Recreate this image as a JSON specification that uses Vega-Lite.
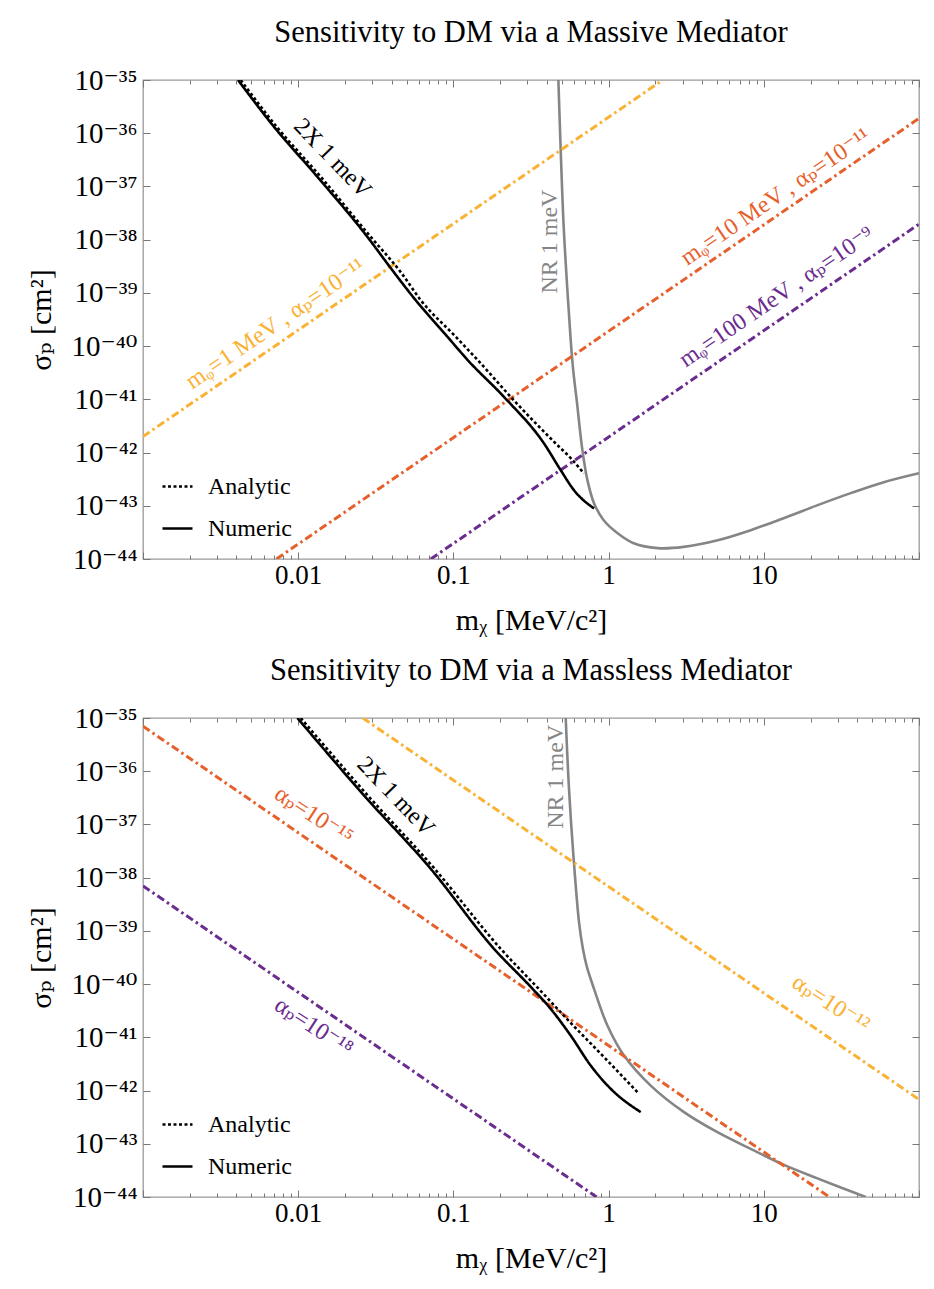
{
  "$schema": "https://vega.github.io/schema/vega-lite/v6.json",
  "background": "white",
  "padding": {"left": 26, "top": 16, "right": 10, "bottom": 5},
  "config": {
    "font": "Liberation Serif, DejaVu Serif",
    "view": {"stroke": "#9a9a9a", "strokeWidth": 1.3},
    "axis": {"grid": false, "domain": false, "labelFont": "Liberation Serif, DejaVu Serif", "titleFont": "Liberation Serif, DejaVu Serif", "labelColor": "black", "titleColor": "black", "tickColor": "#777777", "tickWidth": 1, "titleFontWeight": "normal"},
    "title": {"font": "Liberation Serif, DejaVu Serif", "fontSize": 30.5, "fontWeight": "normal", "color": "black"},
    "legend": {"orient": "bottom-left", "offset": 18, "padding": 0, "labelFontSize": 24, "labelFont": "Liberation Serif, DejaVu Serif", "labelColor": "black", "symbolType": "stroke", "symbolSize": 900, "symbolStrokeWidth": 2.4, "rowPadding": 13, "labelOffset": 14, "symbolStrokeColor": "black"}
  },
  "resolve": {"scale": {"strokeDash": "independent"}, "legend": {"strokeDash": "independent"}},
  "spacing": 18,
  "datasets": {
    "top": [
      {"s": "NR", "x": 0.4747, "y": 1e-35}, {"s": "NR", "x": 0.4913, "y": 4.83e-37}, {"s": "NR", "x": 0.5137, "y": 1.73e-38}, {"s": "NR", "x": 0.5451, "y": 9.1e-40}, {"s": "NR", "x": 0.5699, "y": 1.30e-40}, {"s": "NR", "x": 0.5914, "y": 3.54e-41}, {"s": "NR", "x": 0.6230, "y": 9.66e-42}, {"s": "NR", "x": 0.6779, "y": 1.11e-42}, {"s": "NR", "x": 0.7303, "y": 3.03e-43}, {"s": "NR", "x": 0.8052, "y": 1.12e-43}, {"s": "NR", "x": 0.9298, "y": 5.36e-44}, {"s": "NR", "x": 1.144, "y": 3.05e-44}, {"s": "NR", "x": 1.451, "y": 1.98e-44}, {"s": "NR", "x": 2.072, "y": 1.60e-44}, {"s": "NR", "x": 3.047, "y": 1.69e-44}, {"s": "NR", "x": 5.047, "y": 2.25e-44}, {"s": "NR", "x": 8.233, "y": 3.48e-44}, {"s": "NR", "x": 13.43, "y": 5.85e-44}, {"s": "NR", "x": 22.25, "y": 1.03e-43}, {"s": "NR", "x": 36.3, "y": 1.73e-43}, {"s": "NR", "x": 59.25, "y": 2.78e-43}, {"s": "NR", "x": 100, "y": 4.10e-43},
      {"s": "orange", "x": 0.001, "y": 2e-42}, {"s": "orange", "x": 2.236, "y": 1e-35},
      {"s": "red", "x": 0.00724, "y": 1e-44}, {"s": "red", "x": 100, "y": 1.9e-36},
      {"s": "purple", "x": 0.0715, "y": 1e-44}, {"s": "purple", "x": 100, "y": 1.956e-38},
      {"s": "Numeric", "x": 0.004094, "y": 1e-35}, {"s": "Numeric", "x": 0.006984, "y": 1.32e-36}, {"s": "Numeric", "x": 0.01329, "y": 1.52e-37}, {"s": "Numeric", "x": 0.02791, "y": 1.13e-38}, {"s": "Numeric", "x": 0.03888, "y": 3.10e-39}, {"s": "Numeric", "x": 0.05573, "y": 7.98e-40}, {"s": "Numeric", "x": 0.09148, "y": 1.50e-40}, {"s": "Numeric", "x": 0.1255, "y": 5.22e-41}, {"s": "Numeric", "x": 0.2118, "y": 1.11e-41}, {"s": "Numeric", "x": 0.3836, "y": 1.48e-42}, {"s": "Numeric", "x": 0.4913, "y": 4.67e-43}, {"s": "Numeric", "x": 0.5985, "y": 1.96e-43}, {"s": "Numeric", "x": 0.8054, "y": 8.9e-44},
      {"s": "Analytic", "x": 0.004261, "y": 1e-35}, {"s": "Analytic", "x": 0.00727, "y": 1.32e-36}, {"s": "Analytic", "x": 0.01396, "y": 1.52e-37}, {"s": "Analytic", "x": 0.02932, "y": 1.13e-38}, {"s": "Analytic", "x": 0.04643, "y": 2.33e-39}, {"s": "Analytic", "x": 0.06155, "y": 7.32e-40}, {"s": "Analytic", "x": 0.1035, "y": 1.50e-40}, {"s": "Analytic", "x": 0.1455, "y": 5.22e-41}, {"s": "Analytic", "x": 0.2446, "y": 9.66e-42}, {"s": "Analytic", "x": 0.4563, "y": 1.48e-42}, {"s": "Analytic", "x": 0.5699, "y": 7.85e-43}, {"s": "Analytic", "x": 0.6942, "y": 4.05e-43}
    ],
    "bottom": [
      {"s": "NR", "x": 0.5292, "y": 1e-35}, {"s": "NR", "x": 0.5557, "y": 4.69e-37}, {"s": "NR", "x": 0.5932, "y": 2.61e-38}, {"s": "NR", "x": 0.6447, "y": 1.46e-39}, {"s": "NR", "x": 0.683, "y": 4.61e-40}, {"s": "NR", "x": 0.7247, "y": 2.1e-40}, {"s": "NR", "x": 0.8054, "y": 8.16e-41}, {"s": "NR", "x": 0.9824, "y": 1.67e-41}, {"s": "NR", "x": 1.257, "y": 4.55e-42}, {"s": "NR", "x": 1.868, "y": 1.24e-42}, {"s": "NR", "x": 3.061, "y": 3.93e-43}, {"s": "NR", "x": 5.024, "y": 1.65e-43}, {"s": "NR", "x": 8.233, "y": 8.02e-44}, {"s": "NR", "x": 13.49, "y": 4.01e-44}, {"s": "NR", "x": 22.15, "y": 2.24e-44}, {"s": "NR", "x": 45.37, "y": 1e-44},
      {"s": "orange", "x": 0.02608, "y": 1e-35}, {"s": "orange", "x": 100, "y": 6.8e-43},
      {"s": "red", "x": 0.001, "y": 7e-36}, {"s": "red", "x": 26.46, "y": 1e-44},
      {"s": "purple", "x": 0.001, "y": 7e-39}, {"s": "purple", "x": 0.8367, "y": 1e-44},
      {"s": "Numeric", "x": 0.009881, "y": 1e-35}, {"s": "Numeric", "x": 0.02655, "y": 3.51e-37}, {"s": "Numeric", "x": 0.07142, "y": 1.47e-38}, {"s": "Numeric", "x": 0.1827, "y": 4.61e-40}, {"s": "Numeric", "x": 0.3148, "y": 8.89e-41}, {"s": "Numeric", "x": 0.4236, "y": 3.43e-41}, {"s": "Numeric", "x": 0.5699, "y": 1.08e-41}, {"s": "Numeric", "x": 0.7669, "y": 2.95e-42}, {"s": "Numeric", "x": 1.032, "y": 1.08e-42}, {"s": "Numeric", "x": 1.61, "y": 3.93e-43},
      {"s": "Analytic", "x": 0.01038, "y": 1e-35}, {"s": "Analytic", "x": 0.02783, "y": 3.61e-37}, {"s": "Analytic", "x": 0.07464, "y": 1.54e-38}, {"s": "Analytic", "x": 0.2017, "y": 4.61e-40}, {"s": "Analytic", "x": 0.3544, "y": 8.16e-41}, {"s": "Analytic", "x": 0.5699, "y": 1.87e-41}, {"s": "Analytic", "x": 0.958, "y": 3.94e-42}, {"s": "Analytic", "x": 1.57, "y": 8.67e-43}
    ]
  },
  "vconcat": [
    {
      "title": {"text": "Sensitivity to DM via a Massive Mediator", "offset": 18},
      "width": 776,
      "height": 479,
      "data": {"name": "top"},
      "resolve": {"axis": {"x": "independent", "y": "independent"}},
      "layer": [
        {
          "transform": [{"filter": "datum.s == 'NR'"}],
          "mark": {"type": "line", "color": "#858585", "strokeWidth": 2.6, "clip": true, "interpolate": "catmull-rom"},
          "encoding": {
            "x": {"field": "x", "type": "quantitative", "scale": {"type": "log", "domain": [0.001, 100], "nice": false},
              "axis": {"orient": "bottom", "values": [0.001,0.002,0.003,0.004,0.005,0.006,0.007,0.008,0.009,0.01,0.02,0.03,0.04,0.05,0.06,0.07,0.08,0.09,0.1,0.2,0.3,0.4,0.5,0.6,0.7,0.8,0.9,1,2,3,4,5,6,7,8,9,10,20,30,40,50,60,70,80,90,100],
                "labelExpr": "datum.value == 0.01 ? '0.01' : datum.value == 0.1 ? '0.1' : datum.value == 1 ? '1' : datum.value == 10 ? '10' : ''",
                "labelOverlap": false, "labelFlush": false, "labelFontSize": 27, "labelPadding": 10,
                "tickSize": {"condition": {"test": "datum.value == 0.001 || datum.value == 0.01 || datum.value == 0.1 || datum.value == 1 || datum.value == 10 || datum.value == 100", "value": -7}, "value": -4},
                "title": "mᵪ [MeV/c²]", "titleFontSize": 30, "titlePadding": 14}},
            "y": {"field": "y", "type": "quantitative", "scale": {"type": "log", "domain": [1e-44, 1e-35], "nice": false},
              "axis": {"orient": "left", "values": [1e-44,1e-43,1e-42,1e-41,1e-40,1e-39,1e-38,1e-37,1e-36,1e-35],
                "labelExpr": "['10⁻³⁵','10⁻³⁶','10⁻³⁷','10⁻³⁸','10⁻³⁹','10⁻⁴⁰','10⁻⁴¹','10⁻⁴²','10⁻⁴³','10⁻⁴⁴'][-35 - round(log(datum.value)/LN10)]",
                "labelOverlap": false, "labelFlush": false, "labelFontSize": 29, "labelPadding": 13, "tickSize": -7,
                "title": "σₚ [cm²]", "titleFontSize": 30, "titlePadding": 14}}
          }
        },
        {
          "transform": [{"filter": "datum.s == 'NR'"}],
          "mark": {"type": "line", "opacity": 0},
          "encoding": {
            "x": {"field": "x", "type": "quantitative", "scale": {"type": "log", "domain": [0.001, 100], "nice": false},
              "axis": {"orient": "top", "values": [0.001,0.002,0.003,0.004,0.005,0.006,0.007,0.008,0.009,0.01,0.02,0.03,0.04,0.05,0.06,0.07,0.08,0.09,0.1,0.2,0.3,0.4,0.5,0.6,0.7,0.8,0.9,1,2,3,4,5,6,7,8,9,10,20,30,40,50,60,70,80,90,100], "labels": false, "title": null,
                "tickSize": {"condition": {"test": "datum.value == 0.001 || datum.value == 0.01 || datum.value == 0.1 || datum.value == 1 || datum.value == 10 || datum.value == 100", "value": -7}, "value": -4}}},
            "y": {"field": "y", "type": "quantitative", "scale": {"type": "log", "domain": [1e-44, 1e-35], "nice": false},
              "axis": {"orient": "right", "values": [1e-44,1e-43,1e-42,1e-41,1e-40,1e-39,1e-38,1e-37,1e-36,1e-35], "labels": false, "title": null, "tickSize": -7}}
          }
        },
        {
          "transform": [{"filter": "datum.s == 'orange'"}],
          "mark": {"type": "line", "color": "#F9B233", "strokeWidth": 3, "strokeDash": [8, 3.5, 2.5, 3.5], "clip": true},
          "encoding": {"x": {"field": "x", "type": "quantitative", "scale": {"type": "log"}, "axis": null}, "y": {"field": "y", "type": "quantitative", "scale": {"type": "log"}, "axis": null}}
        },
        {
          "transform": [{"filter": "datum.s == 'red'"}],
          "mark": {"type": "line", "color": "#E6602C", "strokeWidth": 3, "strokeDash": [8, 3.5, 2.5, 3.5], "clip": true},
          "encoding": {"x": {"field": "x", "type": "quantitative", "scale": {"type": "log"}, "axis": null}, "y": {"field": "y", "type": "quantitative", "scale": {"type": "log"}, "axis": null}}
        },
        {
          "transform": [{"filter": "datum.s == 'purple'"}],
          "mark": {"type": "line", "color": "#6A2C8E", "strokeWidth": 3, "strokeDash": [8, 3.5, 2.5, 3.5], "clip": true},
          "encoding": {"x": {"field": "x", "type": "quantitative", "scale": {"type": "log"}, "axis": null}, "y": {"field": "y", "type": "quantitative", "scale": {"type": "log"}, "axis": null}}
        },
        {
          "transform": [{"filter": "datum.s == 'Numeric' || datum.s == 'Analytic'"}],
          "mark": {"type": "line", "color": "black", "strokeWidth": 2.6, "clip": true, "interpolate": "monotone"},
          "encoding": {
            "x": {"field": "x", "type": "quantitative", "scale": {"type": "log"}, "axis": null},
            "y": {"field": "y", "type": "quantitative", "scale": {"type": "log"}, "axis": null},
            "strokeDash": {"field": "s", "type": "nominal", "scale": {"domain": ["Analytic", "Numeric"], "range": [[3, 2.5], [1, 0]]}, "legend": {"title": null}}
          }
        },
        {
          "data": {"values": [{"x": 0.01661, "y": 3.37e-37, "label": "2X 1 meV"}]},
          "mark": {"type": "text", "angle": 46, "fontSize": 24, "font": "Liberation Serif, DejaVu Serif", "color": "black", "align": "center", "baseline": "middle"},
          "encoding": {"x": {"field": "x", "type": "quantitative", "scale": {"type": "log"}, "axis": null}, "y": {"field": "y", "type": "quantitative", "scale": {"type": "log"}, "axis": null}, "text": {"field": "label"}}
        },
        {
          "data": {"values": [{"x": 0.4173, "y": 9.2e-39, "label": "NR 1 meV"}]},
          "mark": {"type": "text", "angle": -90, "fontSize": 24, "font": "Liberation Serif, DejaVu Serif", "color": "#858585", "align": "center", "baseline": "middle"},
          "encoding": {"x": {"field": "x", "type": "quantitative", "scale": {"type": "log"}, "axis": null}, "y": {"field": "y", "type": "quantitative", "scale": {"type": "log"}, "axis": null}, "text": {"field": "label"}}
        },
        {
          "data": {"values": [{"x": 0.00716, "y": 2.6e-40, "label": "mᵩ=1 MeV , αₚ=10⁻¹¹"}]},
          "mark": {"type": "text", "angle": -34.4, "fontSize": 24, "font": "Liberation Serif, DejaVu Serif", "color": "#F9B233", "align": "center", "baseline": "middle"},
          "encoding": {"x": {"field": "x", "type": "quantitative", "scale": {"type": "log"}, "axis": null}, "y": {"field": "y", "type": "quantitative", "scale": {"type": "log"}, "axis": null}, "text": {"field": "label"}}
        },
        {
          "data": {"values": [{"x": 11.93, "y": 6.32e-38, "label": "mᵩ=10 MeV , αₚ=10⁻¹¹"}]},
          "mark": {"type": "text", "angle": -34.4, "fontSize": 24, "font": "Liberation Serif, DejaVu Serif", "color": "#E6602C", "align": "center", "baseline": "middle"},
          "encoding": {"x": {"field": "x", "type": "quantitative", "scale": {"type": "log"}, "axis": null}, "y": {"field": "y", "type": "quantitative", "scale": {"type": "log"}, "axis": null}, "text": {"field": "label"}}
        },
        {
          "data": {"values": [{"x": 12.11, "y": 8.34e-40, "label": "mᵩ=100 MeV , αₚ=10⁻⁹"}]},
          "mark": {"type": "text", "angle": -34.4, "fontSize": 24, "font": "Liberation Serif, DejaVu Serif", "color": "#6A2C8E", "align": "center", "baseline": "middle"},
          "encoding": {"x": {"field": "x", "type": "quantitative", "scale": {"type": "log"}, "axis": null}, "y": {"field": "y", "type": "quantitative", "scale": {"type": "log"}, "axis": null}, "text": {"field": "label"}}
        }
      ]
    },
    {
      "title": {"text": "Sensitivity to DM via a Massless Mediator", "offset": 18},
      "width": 776,
      "height": 479,
      "data": {"name": "bottom"},
      "resolve": {"axis": {"x": "independent", "y": "independent"}},
      "layer": [
        {
          "transform": [{"filter": "datum.s == 'NR'"}],
          "mark": {"type": "line", "color": "#858585", "strokeWidth": 2.6, "clip": true, "interpolate": "catmull-rom"},
          "encoding": {
            "x": {"field": "x", "type": "quantitative", "scale": {"type": "log", "domain": [0.001, 100], "nice": false},
              "axis": {"orient": "bottom", "values": [0.001,0.002,0.003,0.004,0.005,0.006,0.007,0.008,0.009,0.01,0.02,0.03,0.04,0.05,0.06,0.07,0.08,0.09,0.1,0.2,0.3,0.4,0.5,0.6,0.7,0.8,0.9,1,2,3,4,5,6,7,8,9,10,20,30,40,50,60,70,80,90,100],
                "labelExpr": "datum.value == 0.01 ? '0.01' : datum.value == 0.1 ? '0.1' : datum.value == 1 ? '1' : datum.value == 10 ? '10' : ''",
                "labelOverlap": false, "labelFlush": false, "labelFontSize": 27, "labelPadding": 10,
                "tickSize": {"condition": {"test": "datum.value == 0.001 || datum.value == 0.01 || datum.value == 0.1 || datum.value == 1 || datum.value == 10 || datum.value == 100", "value": -7}, "value": -4},
                "title": "mᵪ [MeV/c²]", "titleFontSize": 30, "titlePadding": 14}},
            "y": {"field": "y", "type": "quantitative", "scale": {"type": "log", "domain": [1e-44, 1e-35], "nice": false},
              "axis": {"orient": "left", "values": [1e-44,1e-43,1e-42,1e-41,1e-40,1e-39,1e-38,1e-37,1e-36,1e-35],
                "labelExpr": "['10⁻³⁵','10⁻³⁶','10⁻³⁷','10⁻³⁸','10⁻³⁹','10⁻⁴⁰','10⁻⁴¹','10⁻⁴²','10⁻⁴³','10⁻⁴⁴'][-35 - round(log(datum.value)/LN10)]",
                "labelOverlap": false, "labelFlush": false, "labelFontSize": 29, "labelPadding": 13, "tickSize": -7,
                "title": "σₚ [cm²]", "titleFontSize": 30, "titlePadding": 14}}
          }
        },
        {
          "transform": [{"filter": "datum.s == 'NR'"}],
          "mark": {"type": "line", "opacity": 0},
          "encoding": {
            "x": {"field": "x", "type": "quantitative", "scale": {"type": "log", "domain": [0.001, 100], "nice": false},
              "axis": {"orient": "top", "values": [0.001,0.002,0.003,0.004,0.005,0.006,0.007,0.008,0.009,0.01,0.02,0.03,0.04,0.05,0.06,0.07,0.08,0.09,0.1,0.2,0.3,0.4,0.5,0.6,0.7,0.8,0.9,1,2,3,4,5,6,7,8,9,10,20,30,40,50,60,70,80,90,100], "labels": false, "title": null,
                "tickSize": {"condition": {"test": "datum.value == 0.001 || datum.value == 0.01 || datum.value == 0.1 || datum.value == 1 || datum.value == 10 || datum.value == 100", "value": -7}, "value": -4}}},
            "y": {"field": "y", "type": "quantitative", "scale": {"type": "log", "domain": [1e-44, 1e-35], "nice": false},
              "axis": {"orient": "right", "values": [1e-44,1e-43,1e-42,1e-41,1e-40,1e-39,1e-38,1e-37,1e-36,1e-35], "labels": false, "title": null, "tickSize": -7}}
          }
        },
        {
          "transform": [{"filter": "datum.s == 'orange'"}],
          "mark": {"type": "line", "color": "#F9B233", "strokeWidth": 3, "strokeDash": [8, 3.5, 2.5, 3.5], "clip": true},
          "encoding": {"x": {"field": "x", "type": "quantitative", "scale": {"type": "log"}, "axis": null}, "y": {"field": "y", "type": "quantitative", "scale": {"type": "log"}, "axis": null}}
        },
        {
          "transform": [{"filter": "datum.s == 'red'"}],
          "mark": {"type": "line", "color": "#E6602C", "strokeWidth": 3, "strokeDash": [8, 3.5, 2.5, 3.5], "clip": true},
          "encoding": {"x": {"field": "x", "type": "quantitative", "scale": {"type": "log"}, "axis": null}, "y": {"field": "y", "type": "quantitative", "scale": {"type": "log"}, "axis": null}}
        },
        {
          "transform": [{"filter": "datum.s == 'purple'"}],
          "mark": {"type": "line", "color": "#6A2C8E", "strokeWidth": 3, "strokeDash": [8, 3.5, 2.5, 3.5], "clip": true},
          "encoding": {"x": {"field": "x", "type": "quantitative", "scale": {"type": "log"}, "axis": null}, "y": {"field": "y", "type": "quantitative", "scale": {"type": "log"}, "axis": null}}
        },
        {
          "transform": [{"filter": "datum.s == 'Numeric' || datum.s == 'Analytic'"}],
          "mark": {"type": "line", "color": "black", "strokeWidth": 2.6, "clip": true, "interpolate": "monotone"},
          "encoding": {
            "x": {"field": "x", "type": "quantitative", "scale": {"type": "log"}, "axis": null},
            "y": {"field": "y", "type": "quantitative", "scale": {"type": "log"}, "axis": null},
            "strokeDash": {"field": "s", "type": "nominal", "scale": {"domain": ["Analytic", "Numeric"], "range": [[3, 2.5], [1, 0]]}, "legend": {"title": null}}
          }
        },
        {
          "data": {"values": [{"x": 0.04246, "y": 3.32e-37, "label": "2X 1 meV"}]},
          "mark": {"type": "text", "angle": 46, "fontSize": 24, "font": "Liberation Serif, DejaVu Serif", "color": "black", "align": "center", "baseline": "middle"},
          "encoding": {"x": {"field": "x", "type": "quantitative", "scale": {"type": "log"}, "axis": null}, "y": {"field": "y", "type": "quantitative", "scale": {"type": "log"}, "axis": null}, "text": {"field": "label"}}
        },
        {
          "data": {"values": [{"x": 0.456, "y": 7.88e-37, "label": "NR 1 meV"}]},
          "mark": {"type": "text", "angle": -90, "fontSize": 24, "font": "Liberation Serif, DejaVu Serif", "color": "#858585", "align": "center", "baseline": "middle"},
          "encoding": {"x": {"field": "x", "type": "quantitative", "scale": {"type": "log"}, "axis": null}, "y": {"field": "y", "type": "quantitative", "scale": {"type": "log"}, "axis": null}, "text": {"field": "label"}}
        },
        {
          "data": {"values": [{"x": 0.01259, "y": 1.46e-37, "label": "αₚ=10⁻¹⁵"}]},
          "mark": {"type": "text", "angle": 33, "fontSize": 24, "font": "Liberation Serif, DejaVu Serif", "color": "#E6602C", "align": "center", "baseline": "middle"},
          "encoding": {"x": {"field": "x", "type": "quantitative", "scale": {"type": "log"}, "axis": null}, "y": {"field": "y", "type": "quantitative", "scale": {"type": "log"}, "axis": null}, "text": {"field": "label"}}
        },
        {
          "data": {"values": [{"x": 0.01259, "y": 1.57e-41, "label": "αₚ=10⁻¹⁸"}]},
          "mark": {"type": "text", "angle": 33, "fontSize": 24, "font": "Liberation Serif, DejaVu Serif", "color": "#6A2C8E", "align": "center", "baseline": "middle"},
          "encoding": {"x": {"field": "x", "type": "quantitative", "scale": {"type": "log"}, "axis": null}, "y": {"field": "y", "type": "quantitative", "scale": {"type": "log"}, "axis": null}, "text": {"field": "label"}}
        },
        {
          "data": {"values": [{"x": 26.98, "y": 4.27e-41, "label": "αₚ=10⁻¹²"}]},
          "mark": {"type": "text", "angle": 33, "fontSize": 24, "font": "Liberation Serif, DejaVu Serif", "color": "#F9B233", "align": "center", "baseline": "middle"},
          "encoding": {"x": {"field": "x", "type": "quantitative", "scale": {"type": "log"}, "axis": null}, "y": {"field": "y", "type": "quantitative", "scale": {"type": "log"}, "axis": null}, "text": {"field": "label"}}
        }
      ]
    }
  ]
}
